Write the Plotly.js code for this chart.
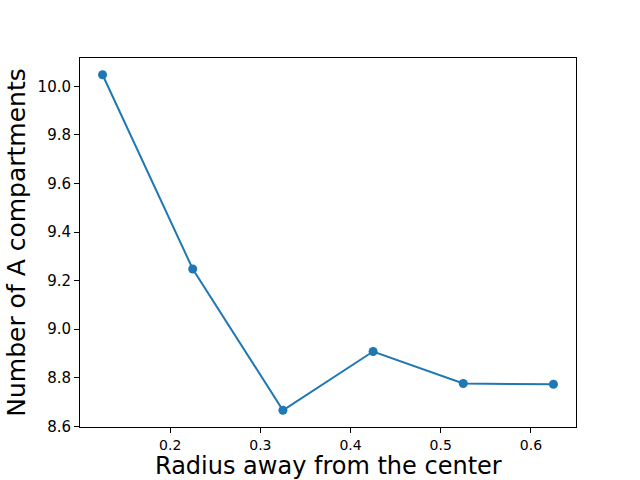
<!DOCTYPE html>
<html>
<head>
<meta charset="utf-8">
<script src="https://cdn.plot.ly/plotly-3.0.1.min.js"></script>
<style>html,body{margin:0;padding:0;background:#fff;}#chart{width:640px;height:480px;}</style>
</head>
<body>
<div id="chart"></div>
<script>
const radius = [0.125, 0.225, 0.325, 0.425, 0.525, 0.625];
const numA = [10.048, 9.248, 8.666, 8.908, 8.776, 8.773];
const xTicks = [0.2, 0.3, 0.4, 0.5, 0.6];
const yTicks = [8.6, 8.8, 9.0, 9.2, 9.4, 9.6, 9.8, 10.0];

const trace = {
  x: radius, y: numA, type: 'scatter', mode: 'lines+markers',
  line: {color: '#1f77b4', width: 2},
  marker: {color: '#1f77b4', size: 9},
  showlegend: false
};
const font = {family: 'DejaVu Sans', color: '#000'};
const layout = {
  width: 640, height: 480,
  margin: {l: 80, r: 64, t: 58, b: 53},
  paper_bgcolor: '#fff', plot_bgcolor: '#fff',
  font: font,
  xaxis: {
    range: [0.1, 0.65], tickvals: xTicks, ticktext: xTicks.map(v => v.toFixed(1)),
    showgrid: false, zeroline: false, showline: true, mirror: true, linecolor: '#000', linewidth: 1,
    ticks: 'outside', ticklen: 5, tickcolor: '#000', tickwidth: 1,
    tickfont: {family: 'DejaVu Sans', size: 14, color: '#000'},
    automargin: false
  },
  yaxis: {
    range: [8.597, 10.117], tickvals: yTicks, ticktext: yTicks.map(v => v.toFixed(1)),
    showgrid: false, zeroline: false, showline: true, mirror: true, linecolor: '#000', linewidth: 1,
    ticks: 'outside', ticklen: 5, tickcolor: '#000', tickwidth: 1,
    tickfont: {family: 'DejaVu Sans', size: 15, color: '#000'},
    title: {text: 'Number of A compartments', font: {family: 'DejaVu Sans', size: 25, color: '#000'}, standoff: 4},
    automargin: false
  },
  annotations: [{
    text: 'Radius away from the center', xref: 'paper', yref: 'paper', x: 0.5, y: 0,
    xanchor: 'center', yanchor: 'bottom', yshift: -54, showarrow: false, borderpad: 0,
    font: {family: 'DejaVu Sans', size: 24, color: '#000'}
  }]
};
Plotly.newPlot('chart', [trace], layout, {displayModeBar: false, staticPlot: true});
</script>
</body>
</html>
